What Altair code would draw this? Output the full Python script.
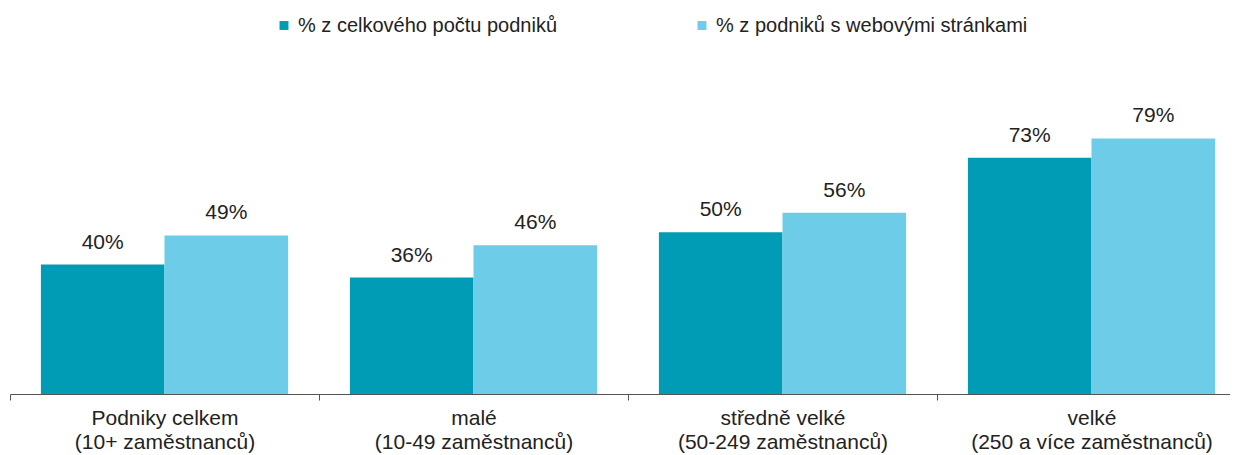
import altair as alt
import pandas as pd

categories = [
    "Podniky celkem\n(10+ zaměstnanců)",
    "malé\n(10-49 zaměstnanců)",
    "středně velké\n(50-249 zaměstnanců)",
    "velké\n(250 a více zaměstnanců)",
]
series = ["% z celkového počtu podniků", "% z podniků s webovými stránkami"]
values_total = [40, 36, 50, 73]
values_web = [49, 46, 56, 79]
colors = ["#009CB6", "#6DCDE9"]

rows = []
for c, a, b in zip(categories, values_total, values_web):
    rows.append({"kat": c, "serie": series[0], "hodnota": a, "popis": f"{a}%"})
    rows.append({"kat": c, "serie": series[1], "hodnota": b, "popis": f"{b}%"})
df = pd.DataFrame(rows)

FONT = "Liberation Sans"

x_enc = alt.X(
    "kat:N",
    sort=categories,
    title=None,
    scale=alt.Scale(range=[2, 1238], paddingInner=0, paddingOuter=0),
    axis=alt.Axis(
        labelAngle=0,
        labelExpr="datum.value ? split(datum.value, '\\n') : ''",
        labelFont=FONT,
        labelFontSize=21,
        labelColor="#222222",
        labelLineHeight=24,
        labelPadding=7,
        labelBaseline="top",
        labelLimit=500,
        tickBand="extent",
        tickSize=6,
        tickColor="#555555",
        domainColor="#555555",
        grid=False,
    ),
)
xo_enc = alt.XOffset("serie:N", sort=series, scale=alt.Scale(paddingInner=0, paddingOuter=0.25))
y_enc = alt.Y("hodnota:Q", scale=alt.Scale(domain=[0, 100]), axis=None)

bars = alt.Chart(df).mark_bar().encode(
    x=x_enc,
    xOffset=xo_enc,
    y=y_enc,
    color=alt.Color(
        "serie:N",
        sort=series,
        scale=alt.Scale(domain=series, range=colors),
        legend=alt.Legend(
            title=None,
            orient="none",
            legendX=266,
            legendY=-55,
            direction="horizontal",
            symbolType="square",
            symbolSize=80,
            symbolStrokeWidth=0,
            labelFont=FONT,
            labelFontSize=20,
            labelColor="#222222",
            columnPadding=134,
            labelLimit=500,
        ),
    ),
)

text = alt.Chart(df).mark_text(
    baseline="bottom", dy=-12, font=FONT, fontSize=21, color="#222222"
).encode(
    x=x_enc,
    xOffset=xo_enc,
    y=y_enc,
    text="popis:N",
)

chart = (
    alt.layer(bars, text)
    .properties(
        width=1222,
        height=323.5,
        autosize=alt.AutoSizeParams(type="none"),
        padding={"left": 0, "top": 62.5, "right": 0, "bottom": 61},
    )
    .configure_view(stroke=None)
)

chart.save("out.html", embed_options={"renderer": "svg", "actions": False})
